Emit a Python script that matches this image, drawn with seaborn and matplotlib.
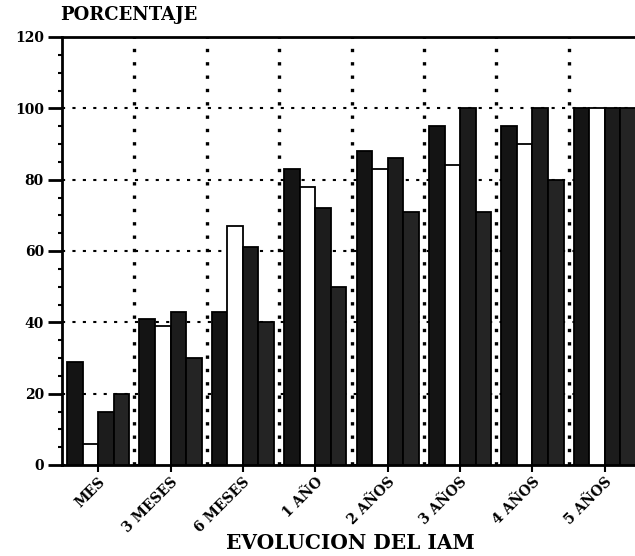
import pandas as pd
import numpy as np
import seaborn as sns
import matplotlib.pyplot as plt
from matplotlib.ticker import MultipleLocator, FixedLocator

# datos
periodos = ['MES', '3 MESES', '6 MESES', '1 AÑO', '2 AÑOS', '3 AÑOS', '4 AÑOS', '5 AÑOS']
serie_1 = [29, 41, 43, 83, 88, 95, 95, 100]
serie_2 = [6, 39, 67, 78, 83, 84, 90, 100]
serie_3 = [15, 43, 61, 72, 86, 100, 100, 100]
serie_4 = [20, 30, 40, 50, 71, 71, 80, 100]
series = ['S1', 'S2', 'S3', 'S4']
colores = ['#141414', '#ffffff', '#1c1c1c', '#242424']

df = pd.DataFrame({
    'periodo': periodos * 4,
    'serie': np.repeat(series, len(periodos)),
    'pct': serie_1 + serie_2 + serie_3 + serie_4,
})

sns.set_style('white')
plt.rcParams['font.family'] = ['DejaVu Serif']
plt.rcParams['text.color'] = 'black'
plt.rcParams['xtick.color'] = 'black'
plt.rcParams['ytick.color'] = 'black'

fig = plt.figure(figsize=(6.35, 5.56), dpi=100)
ax = fig.add_axes([62 / 635, 1 - 465 / 556, 579 / 635, 428 / 556])

sns.barplot(data=df, x='periodo', y='pct', hue='serie', order=periodos,
            hue_order=series, palette=colores, saturation=1, width=0.86,
            edgecolor='black', linewidth=1.3, legend=False, ax=ax, zorder=3)

ax.set_xlim(-0.5, len(periodos) - 0.5)
ax.set_ylim(0, 120)
ax.yaxis.set_major_locator(MultipleLocator(20))
ax.yaxis.set_minor_locator(MultipleLocator(5))
ax.xaxis.set_minor_locator(FixedLocator(np.arange(0.5, len(periodos) - 0.5, 1)))

# rejilla punteada
ax.set_axisbelow(True)
ax.grid(axis='y', which='major', color='black', linestyle=(0, (1.5, 3.5)), linewidth=1.5)
ax.grid(axis='x', which='minor', color='black', linestyle=(0, (1, 3)), linewidth=2.4)
ax.grid(axis='x', which='major', visible=False)

for s in ['top', 'left', 'bottom']:
    ax.spines[s].set_visible(True)
    ax.spines[s].set_linewidth(2)
    ax.spines[s].set_color('black')
ax.spines['right'].set_visible(False)

ax.tick_params(axis='y', which='major', direction='out', length=10, width=2,
               labelsize=10, pad=3, left=True)
ax.tick_params(axis='y', which='minor', direction='out', length=3, width=1.5, left=True)
ax.tick_params(axis='x', which='major', direction='out', length=5, width=1.5,
               labelsize=10, pad=2, bottom=True)
ax.tick_params(axis='x', which='minor', length=0)
for lab in ax.get_yticklabels():
    lab.set_fontweight('heavy')
ax.set_xticks(range(len(periodos)))
ax.set_xticklabels(periodos, rotation=45, ha='right', rotation_mode='anchor',
                   fontweight='heavy')
ax.set_xlabel('')
ax.set_ylabel('')

fig.text(60 / 635, 1 - 15 / 556, 'PORCENTAJE', ha='left', va='center',
         fontsize=13, fontweight='heavy')
fig.text(350 / 635, 1 - 543 / 556, 'EVOLUCION DEL IAM', ha='center', va='center',
         fontsize=14.5, fontweight='heavy')

fig.savefig('out.png', dpi=100)
